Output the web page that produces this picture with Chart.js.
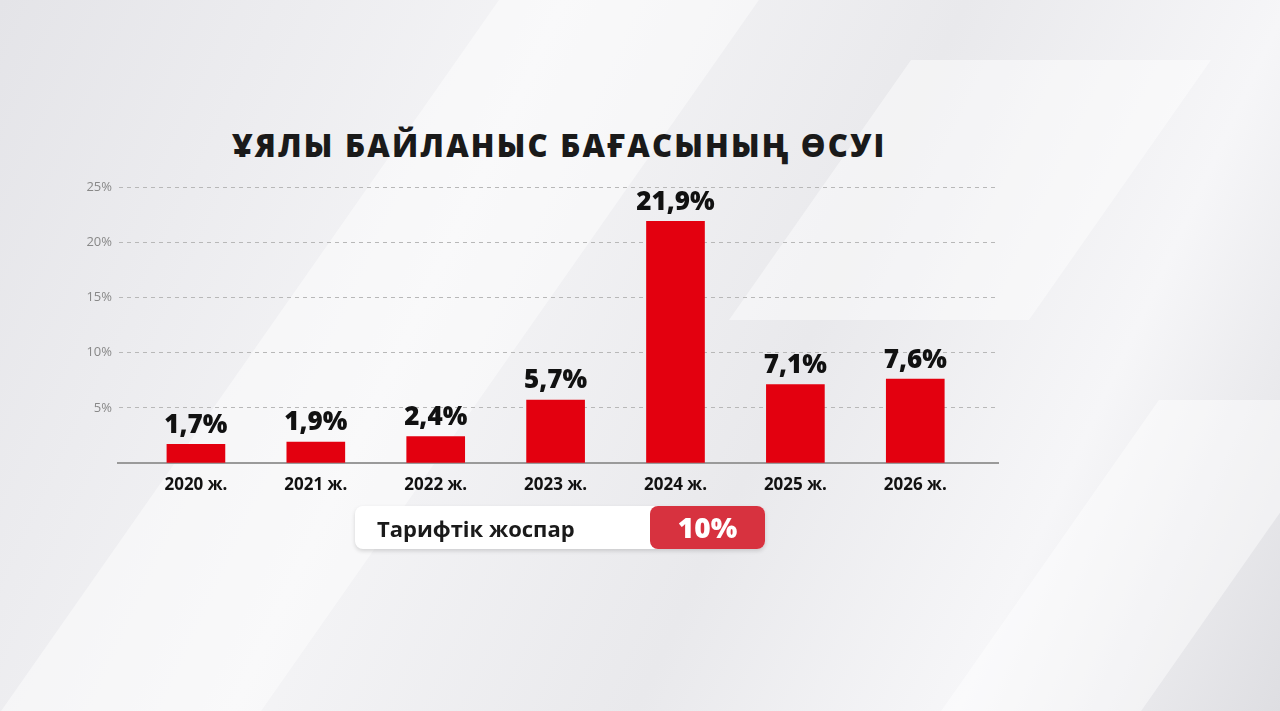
<!DOCTYPE html>
<html>
<head>
<meta charset="utf-8">
<script src="https://cdn.jsdelivr.net/npm/chart.js@4"></script>
<style>
  html, body { margin: 0; padding: 0; }
  body {
    width: 1280px; height: 711px; overflow: hidden; position: relative;
    background: linear-gradient(115deg, #e4e4e8 0%, #f4f4f6 35%, #e9e9ec 60%, #f6f6f8 80%, #dedee2 100%);
    font-family: "Open Sans", "Noto Sans", sans-serif;
  }
  .shard { position: absolute; background: rgba(255,255,255,0.45); transform: skewX(-35deg); }
  #title {
    position: absolute; left: 232px; top: 124px; font-size: 31px; font-weight: 800;
    color: #1a1a1a; letter-spacing: 2.2px;
  }
  #wrap { position: absolute; left: 0; top: 0; width: 1280px; height: 711px; }
  #pill {
    position: absolute; left: 355px; top: 506px; width: 410px; height: 43px;
    background: #fff; border-radius: 8px; box-shadow: 0 2px 4px rgba(0,0,0,0.15);
  }
  #pill .lbl { position: absolute; left: 22px; top: 7px; font-size: 22px; font-weight: 700; color: #1a1a1a; }
  #pill .val {
    position: absolute; right: 0; top: 0; width: 115px; height: 43px; border-radius: 8px;
    background: #d7323f; color: #fff; font-size: 28px; font-weight: 800; text-align: center; line-height: 43px;
  }
</style>
</head>
<body>
<div class="shard" style="left:250px;top:0;width:260px;height:711px"></div>
<div class="shard" style="left:820px;top:60px;width:300px;height:260px"></div>
<div class="shard" style="left:1050px;top:400px;width:200px;height:311px"></div>
<div id="title">ҰЯЛЫ БАЙЛАНЫС БАҒАСЫНЫҢ ӨСУІ</div>
<div id="wrap"><canvas id="chart" width="1280" height="711"></canvas></div>
<div id="pill"><span class="lbl">Тарифтік жоспар</span><span class="val">10%</span></div>
<script>
const years = ['2020 ж.', '2021 ж.', '2022 ж.', '2023 ж.', '2024 ж.', '2025 ж.', '2026 ж.'];
const growth = [1.7, 1.9, 2.4, 5.7, 21.9, 7.1, 7.6];
const yTicks = [5, 10, 15, 20, 25];

// подписи над столбцами
const valueLabels = {
    id: 'valueLabels',
    afterDatasetsDraw(chart) {
        const ctx = chart.ctx;
        const meta = chart.getDatasetMeta(0);
        ctx.save();
        ctx.font = '800 26px "Open Sans", sans-serif';
        ctx.fillStyle = '#111';
        ctx.textAlign = 'center';
        ctx.textBaseline = 'bottom';
        meta.data.forEach((bar, i) => {
            ctx.fillText(growth[i].toFixed(1).replace('.', ',') + '%', bar.x, bar.y - 6);
        });
        ctx.restore();
    }
};

new Chart(document.getElementById('chart').getContext('2d'), {
    type: 'bar',
    data: {
        datasets: [{
            data: growth.map((v, i) => ({ x: i, y: v })),
            backgroundColor: '#e3000f',
            barThickness: 58
        }]
    },
    options: {
        responsive: false,
        animation: false,
        layout: { padding: { top: 187, right: 282, bottom: 0, left: 0 } },
        plugins: { legend: { display: false }, tooltip: { enabled: false } },
        scales: {
            x: {
                type: 'linear', min: -0.65, max: 6.69, offset: false,
                afterFit(scale) { scale.height = 248; },
                afterBuildTicks(scale) { scale.ticks = years.map((_, i) => ({ value: i })); },
                grid: { display: false },
                border: { color: '#9a9a9a', width: 2 },
                ticks: {
                    callback: v => years[v],
                    color: '#111', padding: 4,
                    font: { family: '"Open Sans", sans-serif', size: 17, weight: '700' }
                }
            },
            y: {
                min: 0, max: 25,
                afterFit(scale) { scale.width = 118; },
                afterBuildTicks(scale) { scale.ticks = [0].concat(yTicks).map(v => ({ value: v })); },
                border: { display: true, color: 'rgba(0,0,0,0)', dash: [4, 4] },
                grid: {
                    color: ctx => ctx.tick.value === 0 ? 'rgba(0,0,0,0)' : '#b8b8b8',
                    drawTicks: false
                },
                ticks: {
                    callback: v => v === 0 ? '' : v + '%',
                    color: '#888', padding: 6,
                    font: { family: '"Open Sans", sans-serif', size: 13 }
                }
            }
        }
    },
    plugins: [valueLabels]
});
</script>
</body>
</html>
